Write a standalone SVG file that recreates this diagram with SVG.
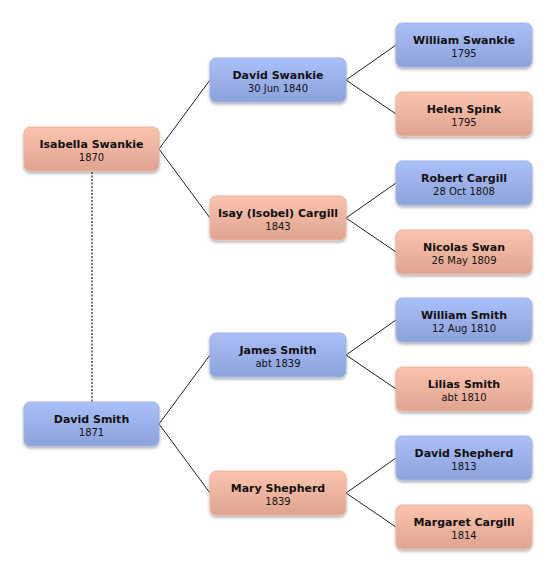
<svg xmlns="http://www.w3.org/2000/svg" width="556" height="574" viewBox="0 0 556 574">
<defs>
<linearGradient id="gb" x1="0" y1="0" x2="0" y2="1">
<stop offset="0" stop-color="#abbff9"/>
<stop offset="1" stop-color="#8ca2da"/>
</linearGradient>
<linearGradient id="gp" x1="0" y1="0" x2="0" y2="1">
<stop offset="0" stop-color="#fcc3ae"/>
<stop offset="1" stop-color="#dea48f"/>
</linearGradient>
<filter id="sh" x="-10%" y="-10%" width="120%" height="140%">
<feDropShadow dx="0" dy="2" stdDeviation="1.5" flood-color="#000" flood-opacity="0.3"/>
</filter>
</defs>
<style>
.b{fill:url(#gb);stroke:#9fb2e6;stroke-width:1;filter:url(#sh)}
.p{fill:url(#gp);stroke:#eab5a2;stroke-width:1;filter:url(#sh)}
.n{font-family:"DejaVu Sans",Verdana,sans-serif;font-size:11px;font-weight:bold;fill:#111;text-anchor:middle}
.d{font-family:"DejaVu Sans",Verdana,sans-serif;font-size:10px;fill:#111;text-anchor:middle}
.c{fill:none;stroke:#222;stroke-width:1}
.dash{fill:none;stroke:#777;stroke-width:2;stroke-dasharray:2 1.5}
</style>
<rect width="556" height="574" fill="#fff"/>
<g id="connectors">
<path class="dash" d="M92 172V402"/>
<path class="c" d="M159 149L210 80M159 149L210 218"/>
<path class="c" d="M159 424L210 355M159 424L210 493"/>
<path class="c" d="M346 80L396 45M346 80L396 114"/>
<path class="c" d="M346 218L396 183M346 218L396 252"/>
<path class="c" d="M346 355L396 320M346 355L396 389"/>
<path class="c" d="M346 493L396 458M346 493L396 527"/>
</g>
<g id="isabella"><rect class="p" x="24" y="127" width="135" height="44" rx="6"/><text class="n" x="91.5" y="148">Isabella Swankie</text><text class="d" x="91.5" y="161">1870</text></g>
<g id="davidsmith"><rect class="b" x="24" y="402" width="135" height="44" rx="6"/><text class="n" x="91.5" y="423">David Smith</text><text class="d" x="91.5" y="436">1871</text></g>
<g id="davidswankie"><rect class="b" x="210" y="58" width="136" height="44" rx="6"/><text class="n" x="278" y="79">David Swankie</text><text class="d" x="278" y="92">30 Jun 1840</text></g>
<g id="isay"><rect class="p" x="210" y="196" width="136" height="44" rx="6"/><text class="n" x="278" y="217">Isay (Isobel) Cargill</text><text class="d" x="278" y="230">1843</text></g>
<g id="jamessmith"><rect class="b" x="210" y="333" width="136" height="44" rx="6"/><text class="n" x="278" y="354">James Smith</text><text class="d" x="278" y="367">abt 1839</text></g>
<g id="maryshepherd"><rect class="p" x="210" y="471" width="136" height="44" rx="6"/><text class="n" x="278" y="492">Mary Shepherd</text><text class="d" x="278" y="505">1839</text></g>
<g id="williamswankie"><rect class="b" x="396" y="23" width="136" height="44" rx="6"/><text class="n" x="464" y="44">William Swankie</text><text class="d" x="464" y="57">1795</text></g>
<g id="helenspink"><rect class="p" x="396" y="92" width="136" height="44" rx="6"/><text class="n" x="464" y="113">Helen Spink</text><text class="d" x="464" y="126">1795</text></g>
<g id="robertcargill"><rect class="b" x="396" y="161" width="136" height="44" rx="6"/><text class="n" x="464" y="182">Robert Cargill</text><text class="d" x="464" y="195">28 Oct 1808</text></g>
<g id="nicolasswan"><rect class="p" x="396" y="230" width="136" height="44" rx="6"/><text class="n" x="464" y="251">Nicolas Swan</text><text class="d" x="464" y="264">26 May 1809</text></g>
<g id="williamsmith"><rect class="b" x="396" y="298" width="136" height="44" rx="6"/><text class="n" x="464" y="319">William Smith</text><text class="d" x="464" y="332">12 Aug 1810</text></g>
<g id="liliassmith"><rect class="p" x="396" y="367" width="136" height="44" rx="6"/><text class="n" x="464" y="388">Lilias Smith</text><text class="d" x="464" y="401">abt 1810</text></g>
<g id="davidshepherd"><rect class="b" x="396" y="436" width="136" height="44" rx="6"/><text class="n" x="464" y="457">David Shepherd</text><text class="d" x="464" y="470">1813</text></g>
<g id="margaretcargill"><rect class="p" x="396" y="505" width="136" height="44" rx="6"/><text class="n" x="464" y="526">Margaret Cargill</text><text class="d" x="464" y="539">1814</text></g>
</svg>
